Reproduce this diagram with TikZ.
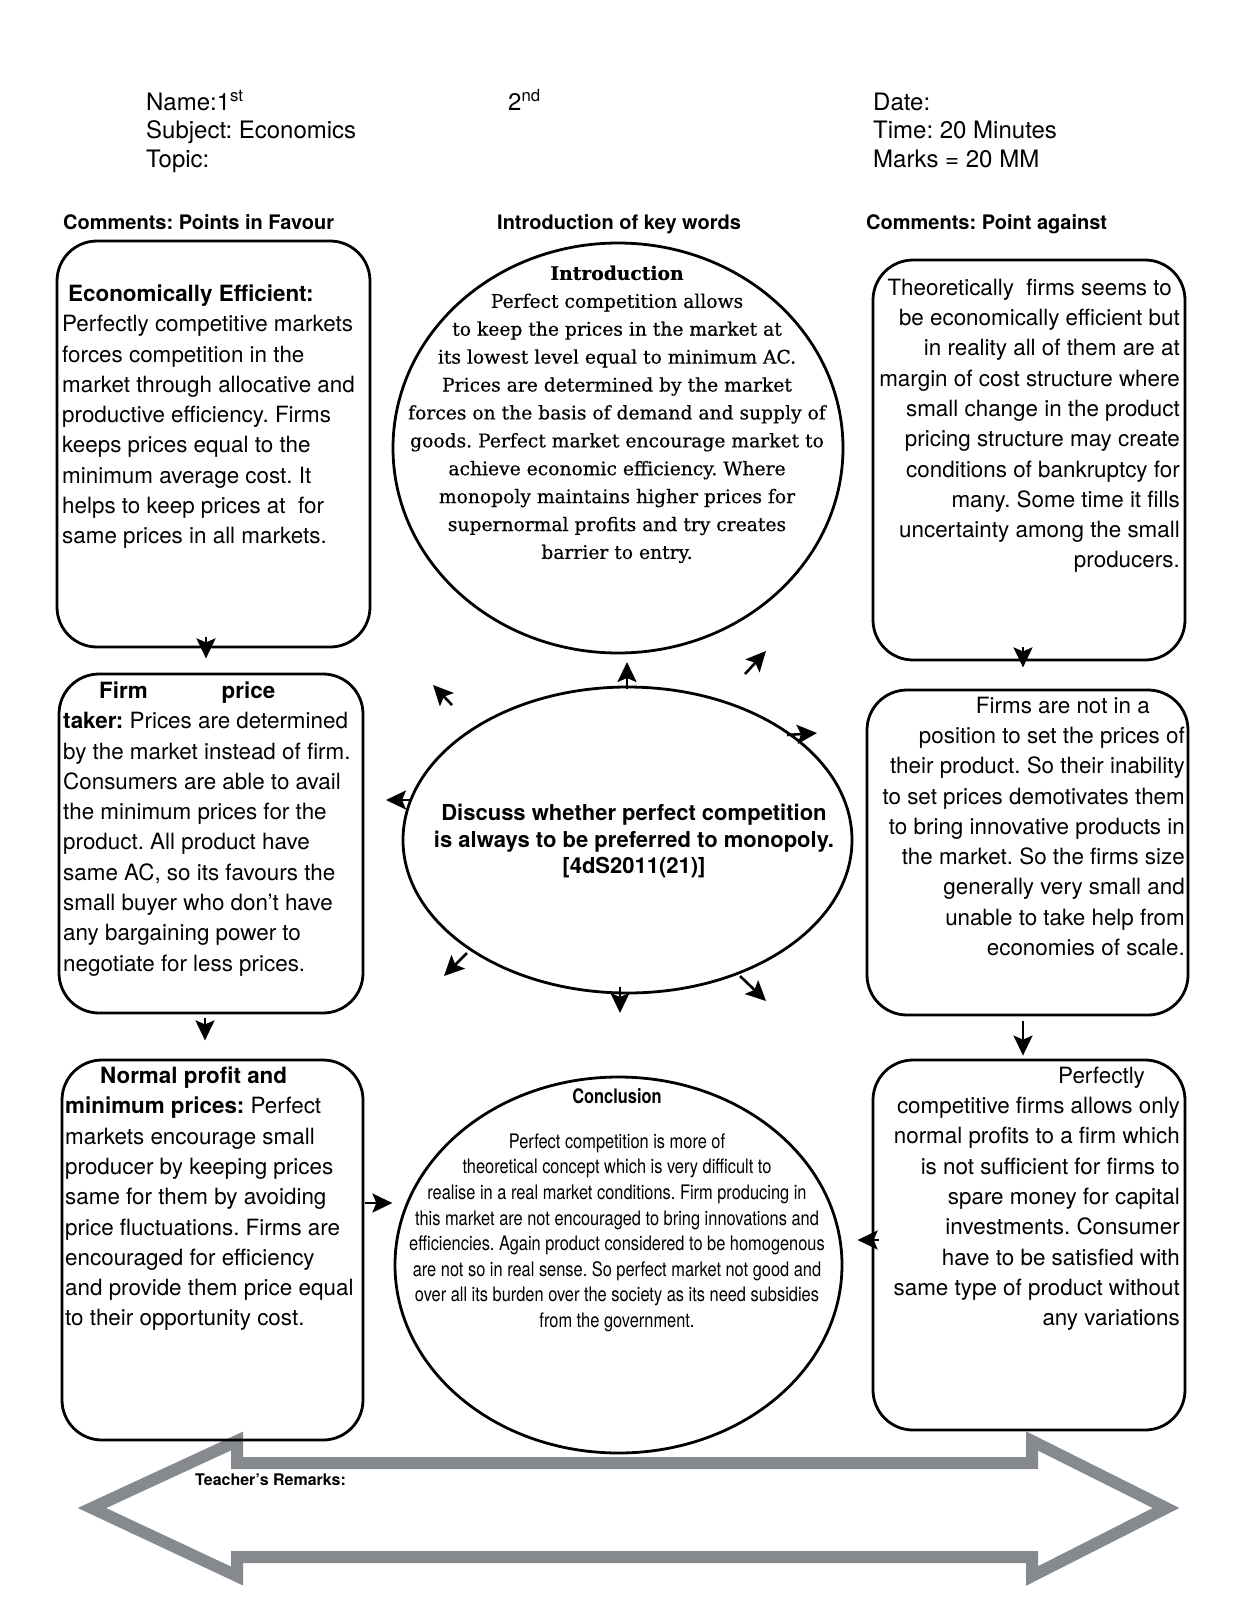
\documentclass[tikz,border=0pt]{standalone}
\usepackage{fontspec}
\setmainfont{TeX Gyre Heros}
\newfontfamily\slabfont[FakeBold=0.5]{DejaVu Serif}
\newfontfamily\narrowfont[FakeStretch=0.82]{TeX Gyre Heros}
\usetikzlibrary{shapes.geometric,arrows.meta}
\definecolor{arrgray}{RGB}{134,137,141}
\frenchspacing
\begin{document}
\frenchspacing
\begin{tikzpicture}[x=1pt,y=-1pt,
  rbox/.style={draw, line width=2.8pt, rounded corners=40pt, inner sep=0pt},
  oval/.style={draw, ellipse, line width=2.8pt, inner sep=0pt},
  arr/.style={line width=2.6pt, -{Stealth[length=20pt,width=19pt,inset=4pt]}},
  bodytxt/.style={inner sep=0pt, font=\fontsize{22.4pt}{30.3pt}\selectfont},
  headtxt/.style={inner sep=0pt, anchor=base west, font=\fontsize{24pt}{28pt}\selectfont},
  coltitle/.style={inner sep=0pt, anchor=base west, font=\fontsize{20pt}{24pt}\selectfont\bfseries}]
\useasboundingbox (0,0) rectangle (1236,1600);
\fill[white] (0,0) rectangle (1236,1600);

% big grey double arrow (behind boxes)
\draw[arrgray, line width=12pt, line join=miter, miter limit=10]
  (237,1441) -- (237,1463) -- (1032,1463) -- (1032,1441) -- (1166,1508)
  -- (1032,1576) -- (1032,1557) -- (237,1557) -- (237,1576) -- (92,1508) -- cycle;
\node[inner sep=0pt, anchor=base west, font=\fontsize{16pt}{18pt}\selectfont\bfseries] (remarks) at (195,1485) {Teacher’s Remarks:};

% header
\node[headtxt] (name) at (146,111) {Name:1\textsuperscript{st}};
\node[headtxt] (subject) at (146,139) {Subject: Economics};
\node[headtxt] (topic) at (146,167) {Topic:};
\node[headtxt] (second) at (508,111) {2\textsuperscript{nd}};
\node[headtxt] (date) at (873,111) {Date:};
\node[headtxt] (time) at (873,139) {Time: 20 Minutes};
\node[headtxt] (marks) at (873,167) {Marks = 20 MM};

\node[coltitle] (h1) at (63,229) {Comments: Points in Favour};
\node[coltitle] (h2) at (497,229) {Introduction of key words};
\node[coltitle] (h3) at (866,229) {Comments: Point against};

% boxes
\node[rbox, minimum width=313pt, minimum height=406pt] (b1) at (213.5,444) {};
\node[rbox, minimum width=304pt, minimum height=339pt] (b2) at (211,843.5) {};
\node[rbox, minimum width=301pt, minimum height=380pt] (b3) at (212.5,1250) {};
\node[rbox, minimum width=312pt, minimum height=400pt] (b4) at (1029,460) {};
\node[rbox, minimum width=321pt, minimum height=325pt] (b5) at (1027.5,852.5) {};
\node[rbox, minimum width=312pt, minimum height=370pt] (b6) at (1029,1245) {};

% ellipses
\node[oval, minimum width=450pt, minimum height=410pt] (intro) at (618,448) {};
\node[oval, minimum width=449pt, minimum height=306pt] (centre) at (627.5,840) {};
\node[oval, minimum width=447pt, minimum height=376pt] (concl) at (618.5,1265) {};

% box texts
\node[bodytxt, anchor=north west, align=left] (t1) at (62,284.6) {%
\hspace*{6pt}\textbf{Economically Efficient:}\\
Perfectly competitive markets\\
forces competition in the\\
market through allocative and\\
productive efficiency. Firms\\
keeps prices equal to the\\
minimum average cost. It\\
helps to keep prices at \ for\\
same prices in all markets.};

\node[bodytxt, anchor=north west, align=left] (t2) at (63,681.6) {%
\hspace*{36pt}\textbf{Firm}\hspace*{74pt}\textbf{price}\\
\textbf{taker:} Prices are determined\\
by the market instead of firm.\\
Consumers are able to avail\\
the minimum prices for the\\
product. All product have\\
same AC, so its favours the\\
small buyer who don’t have\\
any bargaining power to\\
negotiate for less prices.};

\node[bodytxt, anchor=north west, align=left] (t3) at (65,1066.6) {%
\hspace*{35pt}\textbf{Normal profit and}\\
\textbf{minimum prices:} Perfect\\
markets encourage small\\
producer by keeping prices\\
same for them by avoiding\\
price fluctuations. Firms are\\
encouraged for efficiency\\
and provide them price equal\\
to their opportunity cost.};

\node[bodytxt, anchor=north east, align=right] (t4) at (1180,278.6) {%
Theoretically \ firms seems to\hspace*{8pt}\\
be economically efficient but\\
in reality all of them are at\\
margin of cost structure where\\
small change in the product\\
pricing structure may create\\
conditions of bankruptcy for\\
many. Some time it fills\\
uncertainty among the small\\
producers.};

\node[bodytxt, anchor=north east, align=right] (t5) at (1185,696.6) {%
Firms are not in a\hspace*{35pt}\\
position to set the prices of\\
their product. So their inability\\
to set prices demotivates them\\
to bring innovative products in\\
the market. So the firms size\\
generally very small and\\
unable to take help from\\
economies of scale.};

\node[bodytxt, anchor=north east, align=right] (t6) at (1180,1066.6) {%
Perfectly\hspace*{35pt}\\
competitive firms allows only\\
normal profits to a firm which\\
is not sufficient for firms to\\
spare money for capital\\
investments. Consumer\\
have to be satisfied with\\
same type of product without\\
any variations};

% ellipse texts
\node[inner sep=0pt, anchor=north, align=center, font=\slabfont\fontsize{18.7pt}{27.9pt}\selectfont] (introtxt) at (617,265.5) {%
\textbf{Introduction}\\
Perfect competition allows\\
to keep the prices in the market at\\
its lowest level equal to minimum AC.\\
Prices are determined by the market\\
forces on the basis of demand and supply of\\
goods. Perfect market encourage market to\\
achieve economic efficiency. Where\\
monopoly maintains higher prices for\\
supernormal profits and try creates\\
barrier to entry.};

\node[inner sep=0pt, anchor=north, align=center, font=\fontsize{22pt}{26.5pt}\selectfont\bfseries] (centretxt) at (634,804) {%
Discuss whether perfect competition\\
is always to be preferred to monopoly.\\
{[4dS2011(21)]}};

\node[inner sep=0pt, anchor=base, font=\narrowfont\fontsize{20pt}{24pt}\selectfont\bfseries] (concltitle) at (617,1103) {Conclusion};
\node[inner sep=0pt, anchor=north, align=center, font=\narrowfont\fontsize{20pt}{25.6pt}\selectfont] (concltxt) at (617,1133.4) {%
Perfect competition is more of\\
theoretical concept which is very difficult to\\
realise in a real market conditions. Firm producing in\\
this market are not encouraged to bring innovations and\\
efficiencies. Again product considered to be homogenous\\
are not so in real sense. So perfect market not good and\\
over all its burden over the society as its need subsidies\\
from the government.};

% connectors between boxes
\draw[arr] ([xshift=-7.5pt,yshift=11pt]b1.south) -- ([xshift=-7.5pt,yshift=-10pt]b1.south);
\draw[arr] ([xshift=-6pt,yshift=-4pt]b2.south) -- ([xshift=-6pt,yshift=-26pt]b2.south);
\draw[arr] ([xshift=-6pt,yshift=14pt]b4.south) -- ([xshift=-6pt,yshift=-6pt]b4.south);
\draw[arr] ([xshift=-4.5pt,yshift=-5pt]b5.south) -- ([xshift=-6pt,yshift=3pt]b6.north);
\draw[arr] ([xshift=1pt,yshift=47pt]b3.east) -- ([xshift=28pt,yshift=47pt]b3.east);
\draw[arr] ([xshift=7pt,yshift=5pt]b6.west) -- ([xshift=-14pt,yshift=5pt]b6.west);

% arrows radiating from the central question
\coordinate (upA) at (627,689); \coordinate (upB) at (627,662);
\coordinate (neA) at (745,674); \coordinate (neB) at (766,651);
\coordinate (nwA) at (452,705); \coordinate (nwB) at (433,685);
\coordinate (eA) at (787,735);  \coordinate (eB) at (817,733);
\coordinate (wA) at (410,800);  \coordinate (wB) at (386,800);
\coordinate (swA) at (467,953); \coordinate (swB) at (444,976);
\coordinate (sA) at (620,987);  \coordinate (sB) at (620,1013);
\coordinate (seA) at (740,976); \coordinate (seB) at (766,1001);
\draw[arr] (upA) -- (upB);
\draw[arr] (neA) -- (neB);
\draw[arr] (nwA) -- (nwB);
\draw[arr] (eA) -- (eB);
\draw[arr] (wA) -- (wB);
\draw[arr] (swA) -- (swB);
\draw[arr] (sA) -- (sB);
\draw[arr] (seA) -- (seB);
\end{tikzpicture}
\end{document}
